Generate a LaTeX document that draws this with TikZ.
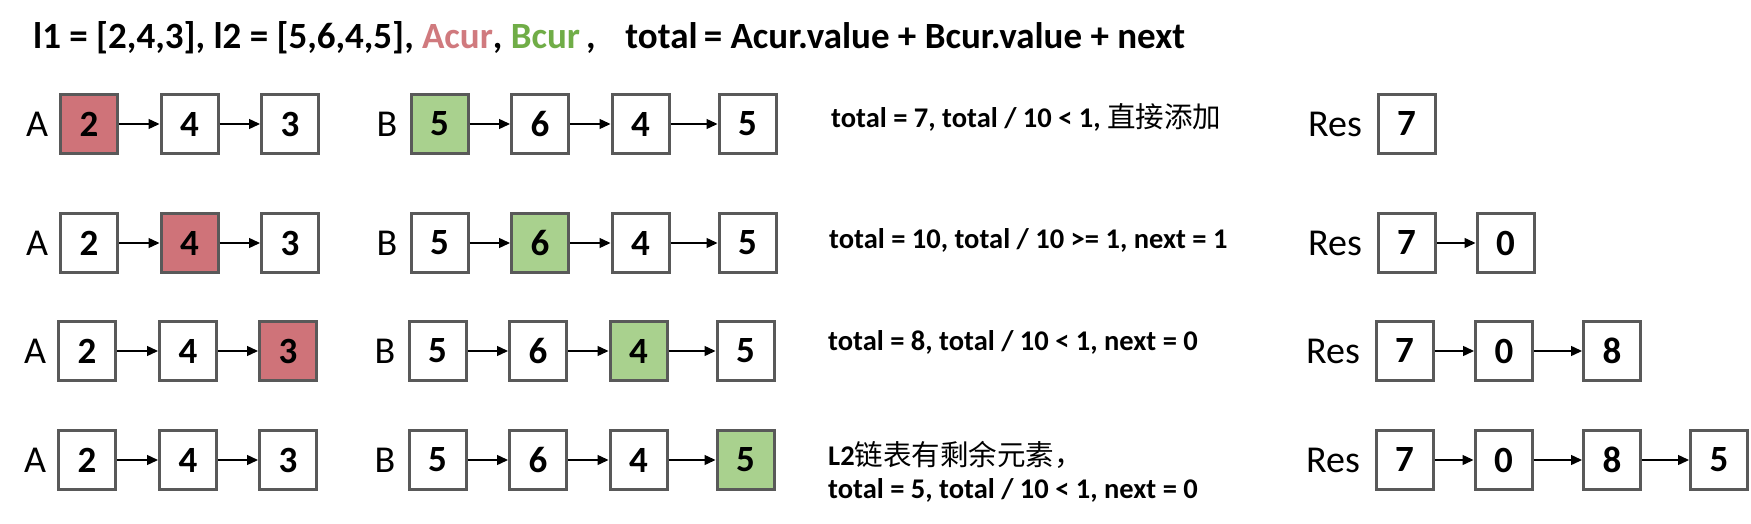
\documentclass[tikz,border=0pt]{standalone}
\usepackage{fontspec}
\setmainfont{Carlito}
\newfontfamily\cjk{Noto Sans CJK SC}
\usetikzlibrary{arrows.meta}
\definecolor{boxgray}{RGB}{89,89,89}
\definecolor{redfill}{RGB}{207,115,121}
\definecolor{greenfill}{RGB}{169,209,142}
\definecolor{acurcol}{RGB}{208,122,126}
\definecolor{bcurcol}{RGB}{112,173,71}
\begin{document}
\begin{tikzpicture}[x=1pt,y=-1pt,
  cell/.style={draw=boxgray,line width=3pt,fill=white,minimum width=57pt,minimum height=59pt,inner sep=0pt,font=\bfseries\fontsize{37}{42}\selectfont},
  redcell/.style={cell,fill=redfill},
  greencell/.style={cell,fill=greenfill},
  lbl/.style={inner sep=0pt,font=\fontsize{38}{44}\selectfont},
  info/.style={inner sep=0pt,anchor=base west,font=\bfseries\fontsize{28.5}{33}\selectfont},
  link/.style={-{Triangle[length=11pt,width=10pt]},line width=1.4pt,black}]
\useasboundingbox (0,0) rectangle (1751,524);

\node[inner sep=0pt,anchor=base west,font=\bfseries\fontsize{37}{43}\selectfont] (title) at (33,49)
  {l1 = [2,4,3], l2 = [5,6,4,5], \textcolor{acurcol}{Acur}, \textcolor{bcurcol}{Bcur}\,,\hspace{0.8em}total\,= Acur.value + Bcur.value + next};

% ---------- row 1
\node[lbl] (la1) at (37,124) {A};
\node[redcell] (a1-1) at (89,124) {2};
\node[cell] (a1-2) at (189.5,124) {4};
\node[cell] (a1-3) at (290,124) {3};
\node[lbl] (lb1) at (387,124) {B};
\node[greencell] (b1-1) at (439.5,124) {5};
\node[cell] (b1-2) at (540,124) {6};
\node[cell] (b1-3) at (640.5,124) {4};
\node[cell] (b1-4) at (747.5,124) {5};
\node[info] (t1) at (831,128) {total = 7, total / 10 < 1, {\cjk\mdseries 直接添加}};
\node[lbl] (lr1) at (1335,124) {Res};
\node[cell] (r1-1) at (1406.5,124) {7};

% ---------- row 2
\node[lbl] (la2) at (37,243) {A};
\node[cell] (a2-1) at (89,243) {2};
\node[redcell] (a2-2) at (189.5,243) {4};
\node[cell] (a2-3) at (290,243) {3};
\node[lbl] (lb2) at (387,243) {B};
\node[cell] (b2-1) at (439.5,243) {5};
\node[greencell] (b2-2) at (540,243) {6};
\node[cell] (b2-3) at (640.5,243) {4};
\node[cell] (b2-4) at (747.5,243) {5};
\node[info] (t2) at (829,248) {total = 10, total / 10 >= 1, next = 1};
\node[lbl] (lr2) at (1335,243) {Res};
\node[cell] (r2-1) at (1406.5,243) {7};
\node[cell] (r2-2) at (1505.5,243) {0};

% ---------- row 3
\node[lbl] (la3) at (35,351) {A};
\node[cell] (a3-1) at (87,351) {2};
\node[cell] (a3-2) at (188,351) {4};
\node[redcell] (a3-3) at (288,351) {3};
\node[lbl] (lb3) at (385,351) {B};
\node[cell] (b3-1) at (437.5,351) {5};
\node[cell] (b3-2) at (538,351) {6};
\node[greencell] (b3-3) at (638.5,351) {4};
\node[cell] (b3-4) at (745.5,351) {5};
\node[info] (t3) at (828,350) {total = 8, total / 10 < 1, next = 0};
\node[lbl] (lr3) at (1333,351) {Res};
\node[cell] (r3-1) at (1404.5,351) {7};
\node[cell] (r3-2) at (1504,351) {0};
\node[cell] (r3-3) at (1612,351) {8};

% ---------- row 4
\node[lbl] (la4) at (35,460) {A};
\node[cell] (a4-1) at (87,460) {2};
\node[cell] (a4-2) at (188,460) {4};
\node[cell] (a4-3) at (288,460) {3};
\node[lbl] (lb4) at (385,460) {B};
\node[cell] (b4-1) at (437.5,460) {5};
\node[cell] (b4-2) at (538,460) {6};
\node[cell] (b4-3) at (638.5,460) {4};
\node[greencell] (b4-4) at (745.5,460) {5};
\node[info] (t4a) at (828,465) {L2{\cjk\mdseries 链表有剩余元素，}};
\node[info] (t4b) at (828,498) {total = 5, total / 10 < 1, next = 0};
\node[lbl] (lr4) at (1333,460) {Res};
\node[cell] (r4-1) at (1404.5,460) {7};
\node[cell] (r4-2) at (1503.5,460) {0};
\node[cell] (r4-3) at (1612,460) {8};
\node[cell] (r4-4) at (1719,460) {5};

% ---------- links
\foreach \r in {1,2,3,4}{
  \draw[link] (a\r-1) -- (a\r-2);
  \draw[link] (a\r-2) -- (a\r-3);
  \draw[link] (b\r-1) -- (b\r-2);
  \draw[link] (b\r-2) -- (b\r-3);
  \draw[link] (b\r-3) -- (b\r-4);
}
\draw[link] (r2-1) -- (r2-2);
\draw[link] (r3-1) -- (r3-2);
\draw[link] (r3-2) -- (r3-3);
\draw[link] (r4-1) -- (r4-2);
\draw[link] (r4-2) -- (r4-3);
\draw[link] (r4-3) -- (r4-4);
\end{tikzpicture}
\end{document}
